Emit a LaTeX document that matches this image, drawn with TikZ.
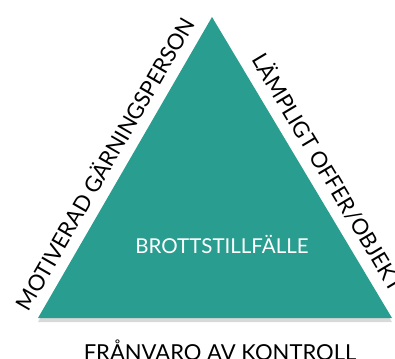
\documentclass[tikz,border=0pt]{standalone}
\usepackage{fontspec}
\setmainfont{Lato}
\usetikzlibrary{shadows}
\definecolor{brotteal}{RGB}{41,157,143}
\begin{document}
\begin{tikzpicture}[x=1pt,y=-1pt, line join=round, line cap=round]
  \tikzset{sidelabel/.style={font=\fontsize{22}{22}\selectfont, sloped}}
  \clip (0,0) rectangle (395,358);
  % corners of the triangle
  \coordinate (apex) at (212,17);
  \coordinate (bl) at (38,318);
  \coordinate (br) at (392,318);
  \fill[brotteal, drop shadow={opacity=0.3, shadow xshift=0pt, shadow yshift=-4pt}]
    (bl) -- (apex) -- (br) -- cycle;
  \node (chance) at (222,244) [white, font=\fontsize{20.5}{20}\selectfont] {BROTTSTILLFÄLLE};
  \path (bl) -- (apex) node (offender) [sidelabel, pos=0.48, above=7pt] {MOTIVERAD GÄRNINGSPERSON};
  \path (apex) -- (br) node (target) [sidelabel, pos=0.55, above=7pt] {LÄMPLIGT OFFER/OBJEKT};
  \node (guard) at (220,350) [font=\fontsize{22}{22}\selectfont] {FRÅNVARO AV KONTROLL};
\end{tikzpicture}
\end{document}
